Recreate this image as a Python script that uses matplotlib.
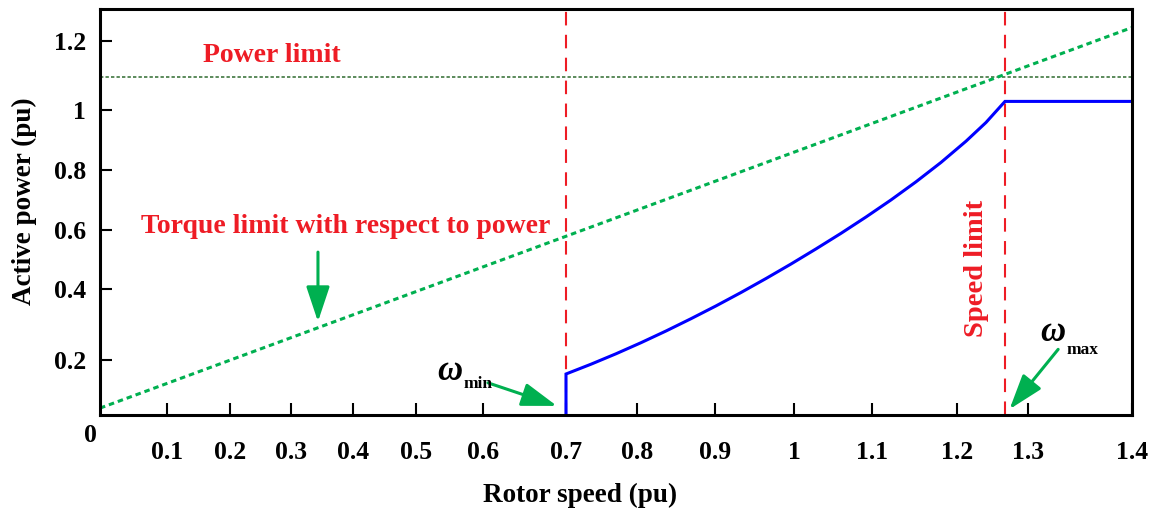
import numpy as np
import matplotlib
matplotlib.use('Agg')
import matplotlib.pyplot as plt

plt.rcParams['font.family'] = ['Liberation Serif', 'DejaVu Serif']
plt.rcParams['font.weight'] = 'bold'

# data (pu)
speed_curve = [0.7, 0.7, 0.7352, 0.7704, 0.8051, 0.8372, 0.8692, 0.9013, 0.9329,
               0.9646, 0.9962, 1.0282, 1.0603, 1.0923, 1.1224, 1.1518, 1.1812,
               1.2127, 1.2408, 1.2676, 1.4]
power_curve = [0.0, 0.1491, 0.1847, 0.2175, 0.2487, 0.2817, 0.3163, 0.3524, 0.3901,
               0.4356, 0.4847, 0.5359, 0.5888, 0.6433, 0.7003, 0.7607, 0.8253,
               0.896, 0.9583, 1.0248, 1.0248]
torque_speed = [0.0, 1.4]
torque_power = [0.025, 1.238]
power_limit = 1.095
w_min = 0.7
w_max = 1.268

xtick_vals = [0.1, 0.2, 0.3, 0.4, 0.5, 0.6, 0.7, 0.8, 0.9, 1.0, 1.1, 1.2, 1.3, 1.4]
xtick_labels = ['0.1', '0.2', '0.3', '0.4', '0.5', '0.6', '0.7', '0.8', '0.9', '1',
                '1.1', '1.2', '1.3', '1.4']
ytick_vals = [0.2, 0.4, 0.6, 0.8, 1.0, 1.2]
ytick_labels = ['0.2', '0.4', '0.6', '0.8', '1', '1.2']

# the original axes are not evenly spaced -> piecewise linear scales
x_knots = [0.0] + xtick_vals
x_knot_pos = [0, 67, 130, 191, 253, 316, 383, 466, 537, 615, 694, 772, 857, 928, 1032]
y_knots = [0.0] + ytick_vals + [1.2915]
y_knot_pos = [0, 55, 126, 185, 245, 305, 374.3, 406]


def xf(v):
    return np.interp(v, x_knots, x_knot_pos)


def xi(p):
    return np.interp(p, x_knot_pos, x_knots)


def yf(v):
    return np.interp(v, y_knots, y_knot_pos)


def yi(p):
    return np.interp(p, y_knot_pos, y_knots)


fig = plt.figure(figsize=(11.49, 5.11), dpi=100)
ax = fig.add_axes([100 / 1149, 96 / 511, 1032 / 1149, 406 / 511])
ax.set_xscale('function', functions=(xf, xi))
ax.set_yscale('function', functions=(yf, yi))
ax.set_xlim(0, 1.4)
ax.set_ylim(0, 1.2915)

red = '#EE1C25'
green = '#00B050'

ax.axhline(power_limit, color='#2F6B2F', lw=1.1, dashes=(2.2, 1.4))
ax.plot(torque_speed, torque_power, color=green, lw=2.2, dashes=(1.8, 1.3))
ax.axvline(w_min, color=red, lw=1.5, dashes=(6.5, 4.5))
ax.axvline(w_max, color=red, lw=1.5, dashes=(6.5, 4.5))
ax.plot(speed_curve, power_curve, color='#0000FF', lw=2.2, solid_joinstyle='miter')

ax.set_xticks(xtick_vals)
ax.set_xticklabels(xtick_labels)
ax.set_yticks(ytick_vals)
ax.set_yticklabels(ytick_labels)
ax.minorticks_off()
ax.tick_params(axis='both', direction='in', length=8.6, width=1.5, labelsize=18.5)
ax.tick_params(axis='x', pad=19)
ax.tick_params(axis='y', pad=10)
for s in ax.spines.values():
    s.set_linewidth(2.2)

ax.set_xlabel('Rotor speed (pu)', fontsize=19.5, fontweight='bold')
ax.xaxis.set_label_coords(0.465, -0.1675)
ax.set_ylabel('Active power (pu)', fontsize=19.5, fontweight='bold')
ax.yaxis.set_label_coords(-0.061, 0.527)

ax.annotate('0', xy=(0, 0), xytext=(-10, -20), textcoords='offset pixels',
            ha='center', va='center', fontsize=18.5, annotation_clip=False)

ax.text(0.269, 1.139, 'Power limit', color=red, fontsize=20, ha='center', va='baseline')
ax.text(0.388, 0.589, 'Torque limit with respect to power', color=red, fontsize=20,
        ha='center', va='baseline')
ax.text(1.228, 0.469, 'Speed limit', color=red, fontsize=20.5, rotation=90,
        ha='center', va='center')

arrow = dict(arrowstyle='-|>,head_length=1.08,head_width=0.36', mutation_scale=20,
             color=green, lw=2.2, shrinkA=0, shrinkB=0)
ax.annotate('', xy=(0.3435, 0.308), xytext=(0.3435, 0.525), arrowprops=arrow)
ax.annotate('', xy=(0.689, 0.033), xytext=(0.606, 0.117), arrowprops=arrow)
ax.annotate('', xy=(1.274, 0.021), xytext=(1.329, 0.230), arrowprops=arrow)

ax.text(0.5687, 0.127, '\u03c9', fontsize=25, style='italic', ha='right', va='baseline')
ax.text(0.571, 0.100, 'min', fontsize=12.5, ha='left', va='baseline')
ax.text(1.3356, 0.2545, '\u03c9', fontsize=25, style='italic', ha='right', va='baseline')
ax.text(1.337, 0.216, 'max', fontsize=12.5, ha='left', va='baseline')

fig.savefig('out.png', dpi=100)
